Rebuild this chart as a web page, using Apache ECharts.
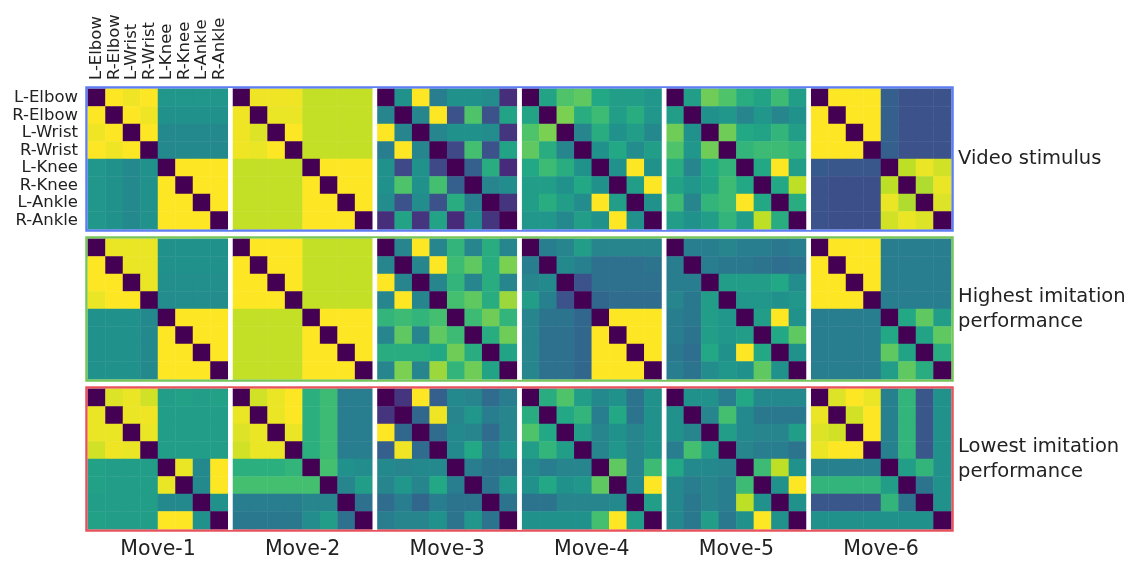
<!DOCTYPE html>
<html>
<head>
<meta charset="utf-8">
<script src="https://cdn.jsdelivr.net/npm/echarts@6/dist/echarts.min.js"></script>
<style>
html,body{margin:0;padding:0;background:#fff;}
#chart{width:1142px;height:561px;}
</style>
</head>
<body>
<div id="chart"></div>
<script>
const joints = ['L-Elbow','R-Elbow','L-Wrist','R-Wrist','L-Knee','R-Knee','L-Ankle','R-Ankle'];
const moves = ['Move-1','Move-2','Move-3','Move-4','Move-5','Move-6'];
const conditions = ['Video stimulus','Highest imitation\nperformance','Lowest imitation\nperformance'];

// Row 1: video stimulus
const video_m1 = [
[0,1,0.98,1,0.52,0.52,0.52,0.52],
[1,0,1,0.98,0.5,0.5,0.5,0.5],
[0.98,1,0,1,0.47,0.47,0.47,0.47],
[1,0.98,1,0,0.47,0.47,0.47,0.47],
[0.52,0.5,0.47,0.5,0,1,1,1],
[0.52,0.5,0.47,0.5,1,0,1,1],
[0.52,0.5,0.47,0.5,1,1,0,1],
[0.52,0.5,0.47,0.5,1,1,1,0]];
const video_m2 = [
[0,0.98,0.98,0.98,0.91,0.91,0.91,0.91],
[0.98,0,0.97,0.97,0.91,0.91,0.91,0.91],
[0.98,0.95,0,1,0.91,0.91,0.91,0.91],
[0.98,0.97,1,0,0.91,0.91,0.91,0.91],
[0.91,0.91,0.91,0.91,0,1,1,1],
[0.91,0.91,0.91,0.91,1,0,1,1],
[0.91,0.91,0.91,0.91,1,1,0,1],
[0.91,0.91,0.91,0.91,1,1,1,0]];
const video_m3 = [
[0,0.5,1,0.42,0.5,0.5,0.48,0.13],
[0.45,0,0.45,1,0.25,0.72,0.25,0.58],
[1,0.45,0,0.45,0.5,0.5,0.48,0.15],
[0.42,1,0.45,0,0.22,0.7,0.25,0.58],
[0.5,0.22,0.5,0.22,0,0.3,0.62,0.12],
[0.5,0.72,0.5,0.7,0.3,0,0.45,0.48],
[0.48,0.25,0.48,0.25,0.62,0.42,0,0.15],
[0.13,0.58,0.15,0.58,0.12,0.48,0.15,0]];
const video_m4 = [
[0,0.58,0.72,0.75,0.6,0.55,0.55,0.52],
[0.58,0,0.8,0.62,0.68,0.55,0.62,0.52],
[0.72,0.8,0,0.45,0.62,0.5,0.55,0.47],
[0.75,0.62,0.45,0,0.5,0.6,0.48,0.55],
[0.6,0.68,0.62,0.5,0,0.5,1,0.5],
[0.55,0.55,0.5,0.6,0.5,0,0.55,1],
[0.55,0.62,0.55,0.48,1,0.55,0,0.5],
[0.52,0.52,0.47,0.55,0.5,1,0.5,0]];
const video_m5 = [
[0,0.55,0.78,0.72,0.62,0.58,0.68,0.55],
[0.55,0,0.5,0.52,0.45,0.52,0.45,0.5],
[0.78,0.5,0,0.78,0.6,0.58,0.65,0.55],
[0.72,0.52,0.78,0,0.65,0.68,0.68,0.65],
[0.62,0.45,0.6,0.65,0,0.6,1,0.55],
[0.58,0.52,0.58,0.68,0.6,0,0.6,0.9],
[0.68,0.45,0.65,0.68,1,0.6,0,0.62],
[0.55,0.5,0.55,0.65,0.55,0.9,0.62,0]];
const video_m6 = [
[0,1,1,1,0.3,0.25,0.25,0.25],
[1,0,1,1,0.3,0.25,0.25,0.25],
[1,1,0,1,0.3,0.25,0.25,0.25],
[1,1,1,0,0.3,0.25,0.25,0.25],
[0.28,0.27,0.27,0.27,0,0.9,0.97,0.93],
[0.25,0.24,0.24,0.24,0.9,0,0.88,0.97],
[0.25,0.24,0.24,0.24,0.97,0.88,0,0.95],
[0.25,0.24,0.24,0.24,0.93,0.97,0.95,0]];

// Row 2: highest imitation performance
const high_m1 = [
[0,0.97,0.97,0.97,0.5,0.5,0.5,0.5],
[1,0,0.97,0.97,0.5,0.5,0.5,0.5],
[1,1,0,0.97,0.49,0.49,0.49,0.49],
[0.97,1,1,0,0.48,0.48,0.48,0.48],
[0.5,0.5,0.5,0.47,0,1,1,1],
[0.5,0.5,0.5,0.47,1,0,1,1],
[0.5,0.5,0.5,0.47,1,1,0,1],
[0.5,0.5,0.5,0.47,1,1,1,0]];
const high_m2 = [
[0,1,1,1,0.91,0.91,0.91,0.91],
[1,0,1,1,0.91,0.91,0.91,0.91],
[1,1,0,1,0.91,0.91,0.91,0.91],
[1,1,1,0,0.91,0.91,0.91,0.91],
[0.91,0.91,0.91,0.91,0,1,1,1],
[0.91,0.91,0.91,0.91,1,0,1,1],
[0.91,0.91,0.91,0.91,1,1,0,1],
[0.91,0.91,0.91,0.91,1,1,1,0]];
const high_m3 = [
[0,0.45,1,0.45,0.65,0.45,0.62,0.45],
[0.45,0,0.45,1,0.68,0.75,0.62,0.8],
[1,0.45,0,0.45,0.65,0.45,0.62,0.45],
[0.45,1,0.45,0,0.7,0.75,0.62,0.85],
[0.65,0.68,0.65,0.7,0,0.68,0.78,0.65],
[0.45,0.75,0.45,0.75,0.68,0,0.62,0.78],
[0.62,0.62,0.62,0.6,0.78,0.62,0,0.58],
[0.45,0.8,0.45,0.85,0.65,0.78,0.58,0]];
const high_m4 = [
[0,0.42,0.45,0.55,0.45,0.45,0.45,0.45],
[0.42,0,0.47,0.43,0.37,0.37,0.37,0.38],
[0.45,0.47,0,0.25,0.37,0.37,0.37,0.37],
[0.55,0.43,0.25,0,0.33,0.35,0.35,0.35],
[0.45,0.38,0.38,0.33,0,1,1,1],
[0.45,0.37,0.37,0.33,1,0,1,1],
[0.45,0.37,0.37,0.33,1,1,0,1],
[0.45,0.37,0.37,0.33,1,1,1,0]];
const high_m5 = [
[0,0.42,0.42,0.45,0.42,0.42,0.4,0.42],
[0.42,0,0.42,0.4,0.4,0.38,0.36,0.38],
[0.42,0.42,0,0.55,0.55,0.55,0.6,0.48],
[0.45,0.4,0.55,0,0.52,0.52,0.5,0.52],
[0.42,0.4,0.55,0.52,0,0.55,1,0.5],
[0.42,0.38,0.55,0.52,0.55,0,0.6,0.75],
[0.4,0.36,0.6,0.5,1,0.6,0,0.5],
[0.42,0.38,0.48,0.52,0.5,0.75,0.5,0]];
const high_m6 = [
[0,1,1,1,0.42,0.42,0.42,0.42],
[1,0,1,1,0.42,0.42,0.42,0.42],
[1,1,0,1,0.42,0.42,0.42,0.42],
[1,1,1,0,0.42,0.42,0.42,0.42],
[0.42,0.42,0.42,0.42,0,0.6,0.75,0.55],
[0.42,0.42,0.42,0.42,0.6,0,0.58,0.75],
[0.42,0.42,0.42,0.42,0.75,0.58,0,0.62],
[0.42,0.42,0.42,0.42,0.55,0.75,0.62,0]];

// Row 3: lowest imitation performance
const low_m1 = [
[0,0.95,0.97,0.93,0.55,0.57,0.55,0.57],
[0.97,0,0.97,0.98,0.55,0.55,0.55,0.55],
[0.97,0.97,0,0.97,0.55,0.55,0.55,0.55],
[0.93,0.98,0.97,0,0.55,0.55,0.55,0.55],
[0.57,0.55,0.55,0.55,0,0.97,0.47,1],
[0.57,0.55,0.55,0.55,0.97,0,0.47,1],
[0.55,0.55,0.55,0.55,0.47,0.47,0,0.5],
[0.57,0.55,0.55,0.55,1,1,0.5,0]];
const low_m2 = [
[0,0.93,0.97,1,0.63,0.68,0.42,0.42],
[0.97,0,0.97,1,0.63,0.68,0.42,0.42],
[0.95,0.97,0,0.97,0.63,0.68,0.42,0.42],
[0.93,0.97,0.97,0,0.63,0.68,0.42,0.42],
[0.63,0.63,0.63,0.65,0,0.7,0.5,0.48],
[0.7,0.7,0.7,0.7,0.7,0,0.45,0.55],
[0.42,0.42,0.42,0.42,0.45,0.45,0,0.37],
[0.4,0.4,0.4,0.4,0.48,0.55,0.37,0]];
const low_m3 = [
[0,0.15,1,0.3,0.47,0.45,0.35,0.42],
[0.15,0,0.33,0.98,0.45,0.52,0.42,0.45],
[1,0.33,0,0.35,0.47,0.45,0.35,0.45],
[0.3,0.98,0.35,0,0.47,0.6,0.42,0.5],
[0.47,0.45,0.47,0.47,0,0.42,0.38,0.38],
[0.45,0.52,0.45,0.6,0.42,0,0.38,0.52],
[0.35,0.42,0.33,0.42,0.38,0.38,0,0.38],
[0.42,0.45,0.45,0.5,0.38,0.52,0.38,0]];
const low_m4 = [
[0,0.62,0.72,0.55,0.47,0.5,0.38,0.5],
[0.62,0,0.6,0.65,0.42,0.6,0.38,0.5],
[0.72,0.6,0,0.55,0.45,0.5,0.45,0.5],
[0.55,0.65,0.55,0,0.45,0.52,0.45,0.5],
[0.47,0.42,0.45,0.45,0,0.75,0.45,0.68],
[0.5,0.6,0.5,0.52,0.75,0,0.47,1],
[0.38,0.38,0.45,0.45,0.45,0.47,0,0.55],
[0.5,0.5,0.5,0.5,0.7,1,0.55,0]];
const low_m5 = [
[0,0.5,0.5,0.42,0.6,0.47,0.47,0.47],
[0.5,0,0.45,0.7,0.47,0.4,0.4,0.4],
[0.5,0.45,0,0.55,0.47,0.45,0.45,0.55],
[0.42,0.7,0.55,0,0.45,0.42,0.42,0.38],
[0.6,0.47,0.47,0.45,0,0.68,0.9,0.5],
[0.47,0.42,0.45,0.42,0.68,0,0.5,1],
[0.47,0.4,0.45,0.42,0.9,0.5,0,0.5],
[0.47,0.4,0.55,0.4,0.5,1,0.5,0]];
const low_m6 = [
[0,0.95,1,0.97,0.43,0.65,0.27,0.5],
[0.97,0,0.93,1,0.43,0.65,0.27,0.5],
[0.95,0.93,0,1,0.43,0.65,0.27,0.5],
[0.97,1,1,0,0.43,0.65,0.27,0.5],
[0.43,0.43,0.43,0.43,0,0.55,0.65,0.5],
[0.65,0.65,0.65,0.65,0.55,0,0.38,0.5],
[0.27,0.27,0.27,0.27,0.65,0.38,0,0.5],
[0.5,0.5,0.5,0.5,0.5,0.5,0.5,0]];

const matrices = [
  [video_m1, video_m2, video_m3, video_m4, video_m5, video_m6],
  [high_m1, high_m2, high_m3, high_m4, high_m5, high_m6],
  [low_m1, low_m2, low_m3, low_m4, low_m5, low_m6]
];

const viridis = ['#440154','#482475','#414487','#355f8d','#2a788e','#21918c','#22a884','#44bf70','#7ad151','#bddf26','#fde725'];
const frameColors = ['#5d7ef2','#74c659','#e8525d'];
const FONT = 'DejaVu Sans';

const panelLeft0 = 88, panelStep = 144.6, panelSize = 140, rowTop0 = 89, rowStep = 150;

const grids = [], xAxes = [], yAxes = [], series = [], graphics = [];
let k = 0;
for (let r = 0; r < 3; r++) {
  for (let c = 0; c < 6; c++) {
    const first = (r === 0 && c === 0);
    grids.push({left: panelLeft0 + c*panelStep, top: rowTop0 + r*rowStep, width: panelSize, height: panelSize, containLabel: false});
    xAxes.push({
      type: 'category', data: joints, gridIndex: k, position: 'top',
      show: first,
      axisLine: {show: false}, axisTick: {show: false}, splitLine: {show: false},
      axisLabel: {show: first, rotate: -90, margin: 9, interval: 0, fontFamily: FONT, fontSize: 16.5, color: '#222'}
    });
    yAxes.push({
      type: 'category', data: joints, gridIndex: k, inverse: true,
      show: first,
      axisLine: {show: false}, axisTick: {show: false}, splitLine: {show: false},
      axisLabel: {show: first, margin: 10, interval: 0, fontFamily: FONT, fontSize: 16.5, color: '#222'}
    });
    const m = matrices[r][c];
    const data = [];
    for (let i = 0; i < 8; i++) for (let j = 0; j < 8; j++) data.push([j, i, m[i][j]]);
    series.push({type: 'heatmap', xAxisIndex: k, yAxisIndex: k, data: data, silent: true, animation: false, itemStyle: {borderWidth: 0}});
    k++;
  }
  graphics.push({
    type: 'rect', silent: true,
    shape: {x: panelLeft0 - 1.5, y: rowTop0 + r*rowStep - 1.5, width: 5*panelStep + panelSize + 3, height: panelSize + 3},
    style: {fill: 'none', stroke: frameColors[r], lineWidth: 2.5}
  });
  for (let c = 1; c < 6; c++) {
    graphics.push({
      type: 'rect', silent: true, z: 10,
      shape: {x: panelLeft0 + c*panelStep - (panelStep - panelSize), y: rowTop0 + r*rowStep - 1, width: panelStep - panelSize, height: panelSize + 2},
      style: {fill: '#ffffff'}
    });
  }
  graphics.push({
    type: 'text', silent: true,
    x: 958, y: rowTop0 + r*rowStep + panelSize/2,
    style: {text: conditions[r], fontFamily: FONT, fontSize: 19.5, fill: '#222', textAlign: 'left', textVerticalAlign: 'middle', lineHeight: 25}
  });
}
for (let c = 0; c < 6; c++) {
  graphics.push({
    type: 'text', silent: true,
    x: panelLeft0 + c*panelStep + panelSize/2, y: 550,
    style: {text: moves[c], fontFamily: FONT, fontSize: 20.5, fill: '#222', textAlign: 'center', textVerticalAlign: 'middle'}
  });
}

const chart = echarts.init(document.getElementById('chart'), null, {renderer: 'canvas'});
chart.setOption({
  animation: false,
  backgroundColor: '#ffffff',
  grid: grids,
  xAxis: xAxes,
  yAxis: yAxes,
  visualMap: {type: 'continuous', show: false, min: 0, max: 1, seriesIndex: series.map((s, i) => i), inRange: {color: viridis}},
  series: series,
  graphic: graphics
});
</script>
</body>
</html>
